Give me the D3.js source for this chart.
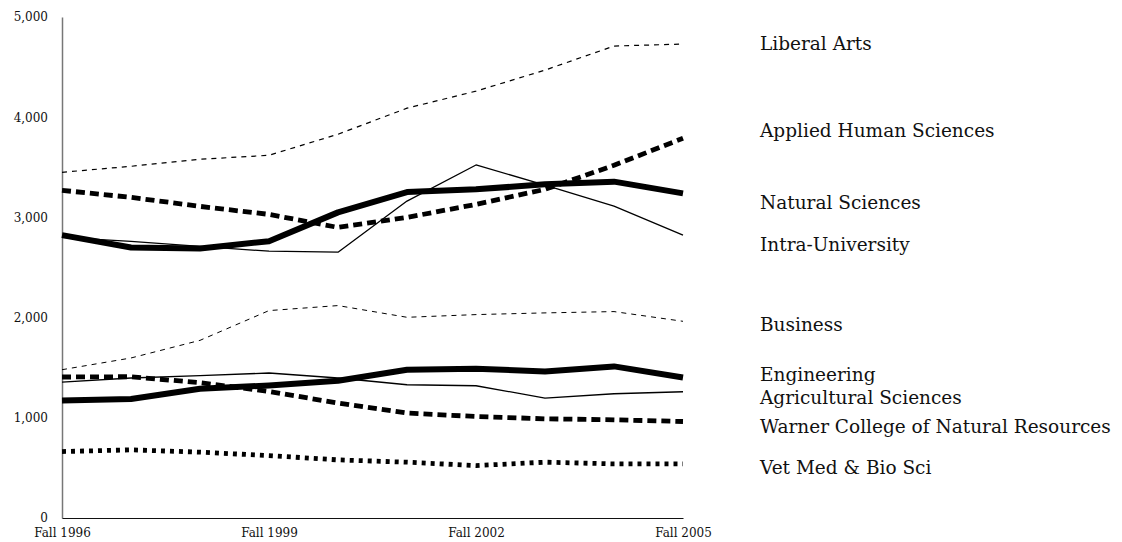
<!DOCTYPE html>
<html>
<head>
<meta charset="utf-8">
<script src="https://cdn.jsdelivr.net/npm/d3@7"></script>
<style>
  html, body { margin: 0; padding: 0; background: #fff; }
  svg { display: block; }
  text { font-family: "DejaVu Serif", serif; fill: #111; }
</style>
</head>
<body>
<svg id="chart" width="1122" height="542"></svg>
<script>
// ---------- DATA ----------
const years = ["Fall 1996","Fall 1997","Fall 1998","Fall 1999","Fall 2000","Fall 2001","Fall 2002","Fall 2003","Fall 2004","Fall 2005"];
const xTickLabels = ["Fall 1996","Fall 1999","Fall 2002","Fall 2005"];
const yTicks = [0, 1000, 2000, 3000, 4000, 5000];

const liberalArts      = [3450, 3510, 3580, 3620, 3830, 4090, 4260, 4470, 4710, 4730];
const appliedHuman     = [3270, 3200, 3110, 3030, 2900, 3000, 3130, 3280, 3520, 3790];
const naturalSciences  = [2823, 2700, 2690, 2763, 3050, 3253, 3280, 3330, 3357, 3240];
const intraUniversity  = [2800, 2760, 2710, 2663, 2653, 3163, 3523, 3323, 3113, 2823];
const business         = [1480, 1597, 1773, 2070, 2120, 2003, 2030, 2047, 2060, 1963];
const engineering      = [1173, 1187, 1290, 1323, 1370, 1480, 1490, 1463, 1513, 1403];
const agricultural     = [1357, 1397, 1420, 1447, 1397, 1330, 1320, 1197, 1240, 1260];
const warner           = [1407, 1410, 1350, 1263, 1147, 1047, 1013, 990, 980, 963];
const vetMed           = [663, 680, 657, 623, 580, 557, 523, 557, 540, 540];

const seriesNames = ["Liberal Arts","Applied Human Sciences","Natural Sciences","Intra-University","Business","Engineering","Agricultural Sciences","Warner College of Natural Resources","Vet Med & Bio Sci"];
const seriesValues = [liberalArts, appliedHuman, naturalSciences, intraUniversity, business, engineering, agricultural, warner, vetMed];

// ---------- STYLE / LAYOUT ----------
const styles = [
  {w: 1.2, dash: "5,5"},
  {w: 4.8, dash: "9,5"},
  {w: 6,   dash: null},
  {w: 1.3, dash: null},
  {w: 1.0, dash: "5,5"},
  {w: 6,   dash: null},
  {w: 1.3, dash: null},
  {w: 4.8, dash: "9,5"},
  {w: 4.8, dash: "4,5"}
];
const labelBaselines = [50, 137, 209, 251, 331, 381, 404, 433, 474];

const svg = d3.select("#chart");
const x = d3.scalePoint().domain(years).range([62, 683]);
const y = d3.scaleLinear().domain([0, 5000]).range([518, 17]);

// axes
const yAxis = d3.axisLeft(y).tickValues(yTicks).tickSize(0).tickPadding(14).tickFormat(d3.format(","));
const gy = svg.append("g").attr("transform", "translate(62,0)").call(yAxis);
gy.select(".domain").attr("stroke", "#777").attr("stroke-width", 1.5);
gy.selectAll("text").style("font-family", '"DejaVu Serif", serif').style("font-size", "12px").attr("fill", "#222");

const xAxis = d3.axisBottom(x).tickValues(xTickLabels).tickSize(0).tickPadding(10);
const gx = svg.append("g").attr("transform", "translate(0,518)").call(xAxis);
gx.select(".domain").attr("stroke", "#111").attr("stroke-width", 1.2);
gx.selectAll("text").style("font-family", '"DejaVu Serif", serif').style("font-size", "12px").attr("fill", "#222");

// lines
const line = d3.line().x((d, i) => x(years[i])).y(d => y(d));
seriesValues.forEach((vals, k) => {
  svg.append("path")
    .datum(vals)
    .attr("d", line)
    .attr("fill", "none")
    .attr("stroke", "#000")
    .attr("stroke-width", styles[k].w)
    .attr("stroke-linejoin", "round")
    .attr("stroke-dasharray", styles[k].dash);
});

// labels
svg.append("g").selectAll("text")
  .data(seriesNames)
  .join("text")
  .attr("x", 760)
  .attr("y", (d, i) => labelBaselines[i])
  .style("font-size", "18.5px")
  .text(d => d);
</script>
</body>
</html>
